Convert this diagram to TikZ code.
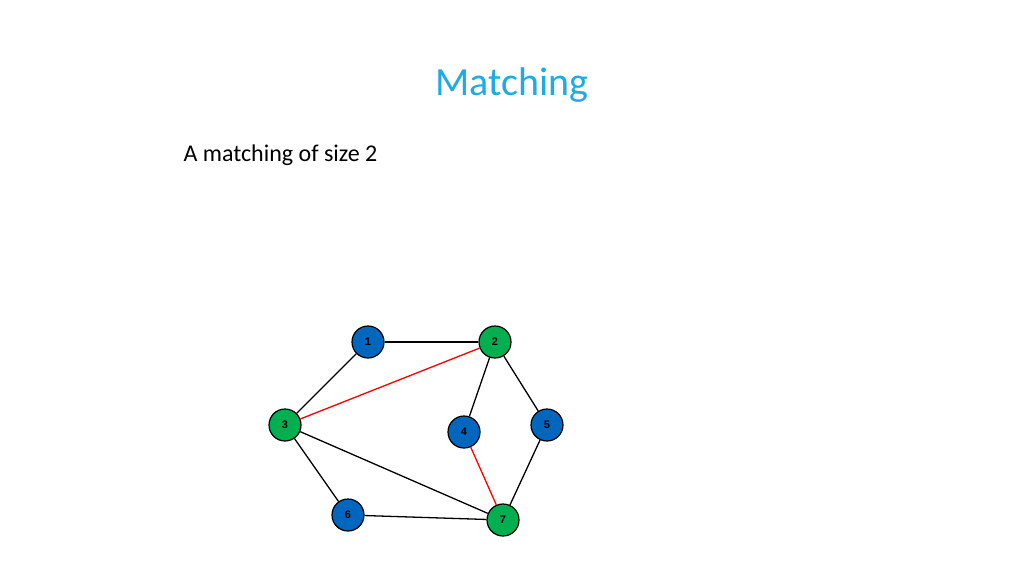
\documentclass[tikz,border=0pt]{standalone}
\usepackage{fontspec}
\setmainfont{Carlito}
\newfontfamily\nodefont{Liberation Sans}
\definecolor{titleblue}{RGB}{30,170,230}
\definecolor{nblue}{RGB}{0,102,190}
\definecolor{ngreen}{RGB}{0,176,80}
\begin{document}
\begin{tikzpicture}[x=1pt,y=-1pt,
  vb/.style={circle,draw=black,line width=1.2pt,fill=nblue,minimum size=32pt,inner sep=0pt,font=\nodefont\bfseries\fontsize{11}{11}\selectfont},
  vg/.style={vb,fill=ngreen},
  edge/.style={line width=1.3pt,black},
  medge/.style={line width=1.3pt,red}]
\useasboundingbox (0,0) rectangle (1024,576);
\node[text=titleblue,font=\fontsize{40}{40}\selectfont] (title) at (512,85) {Matching};
\node[anchor=west,font=\fontsize{24}{24}\selectfont] (sub) at (180,155) {A matching of size 2};
\node[vb] (n1) at (368,342) {1};
\node[vg] (n2) at (495,342) {2};
\node[vg] (n3) at (285,425) {3};
\node[vb] (n4) at (464,432) {4};
\node[vb] (n5) at (547,425) {5};
\node[vb] (n6) at (348,515) {6};
\node[vg] (n7) at (503,520) {7};
\draw[edge] (n1)--(n2);
\draw[edge] (n1)--(n3);
\draw[medge] (n2)--(n3);
\draw[edge] (n2)--(n4);
\draw[edge] (n2)--(n5);
\draw[edge] (n3)--(n6);
\draw[edge] (n3)--(n7);
\draw[medge] (n4)--(n7);
\draw[edge] (n5)--(n7);
\draw[edge] (n6)--(n7);
\end{tikzpicture}
\end{document}
